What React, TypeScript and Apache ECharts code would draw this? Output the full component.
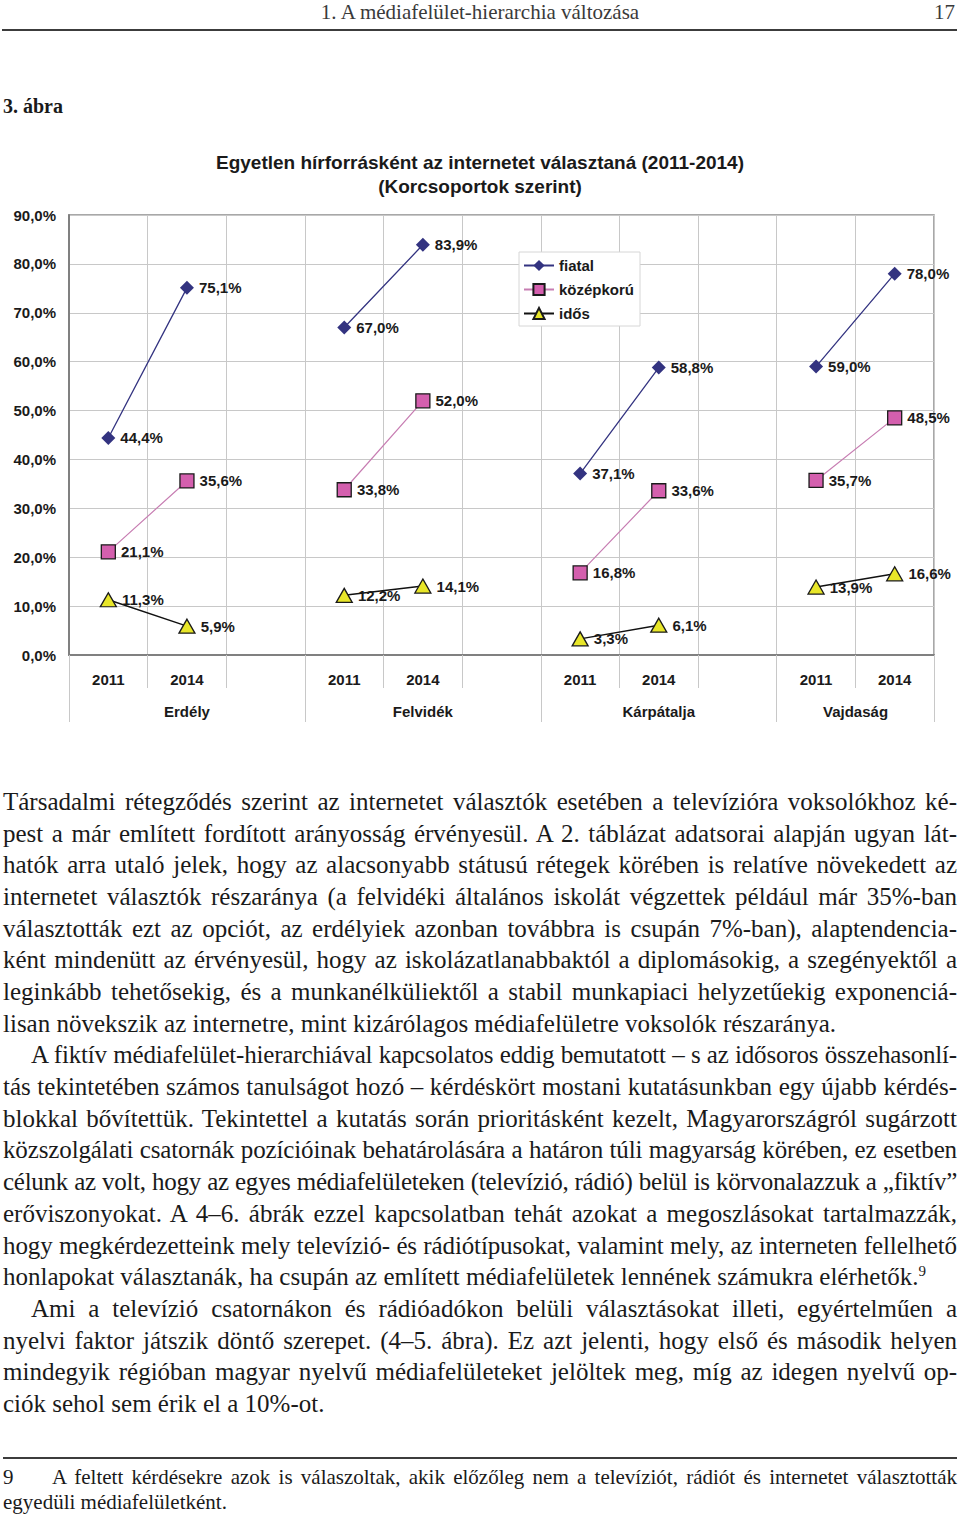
import React, { useEffect, useLayoutEffect, useRef } from 'react';
import * as echarts from 'echarts';

// ---- chart data ----
const years = ['2011', '2014', '', '2011', '2014', '', '2011', '2014', '', '2011', '2014'];
const regions = ['', 'Erdély', '', '', 'Felvidék', '', '', 'Kárpátalja', '', 'Vajdaság', ''];
const seriesNames = ['fiatal', 'középkorú', 'idős'];
const fiatal = [44.4, 75.1, null, 67.0, 83.9, null, 37.1, 58.8, null, 59.0, 78.0];
const kozepkoru = [21.1, 35.6, null, 33.8, 52.0, null, 16.8, 33.6, null, 35.7, 48.5];
const idos = [11.3, 5.9, null, 12.2, 14.1, null, 3.3, 6.1, null, 13.9, 16.6];
const yMin = 0;
const yMax = 90;
const yStep = 10;
const chartTitle = 'Egyetlen hírforrásként az internetet választaná (2011-2014)\n(Korcsoportok szerint)';

// ---- page text ----
const headerText = '1. A médiafelület-hierarchia változása';
const pageNo = '17';
const figLabel = '3. ábra';
type Line = { t: string; indent?: boolean; last?: boolean; sup?: string };
const bodyLines: Line[] = [
  { t: 'Társadalmi rétegződés szerint az internetet választók esetében a televízióra voksolókhoz ké-' },
  { t: 'pest a már említett fordított arányosság érvényesül. A 2. táblázat adatsorai alapján ugyan lát-' },
  { t: 'hatók arra utaló jelek, hogy az alacsonyabb státusú rétegek körében is relatíve növekedett az' },
  { t: 'internetet választók részaránya (a felvidéki általános iskolát végzettek például már 35%-ban' },
  { t: 'választották ezt az opciót, az erdélyiek azonban továbbra is csupán 7%-ban), alaptendencia-' },
  { t: 'ként mindenütt az érvényesül, hogy az iskolázatlanabbaktól a diplomásokig, a szegényektől a' },
  { t: 'leginkább tehetősekig, és a munkanélküliektől a stabil munkapiaci helyzetűekig exponenciá-' },
  { t: 'lisan növekszik az internetre, mint kizárólagos médiafelületre voksolók részaránya.', last: true },
  { t: 'A fiktív médiafelület-hierarchiával kapcsolatos eddig bemutatott – s az idősoros összehasonlí-', indent: true },
  { t: 'tás tekintetében számos tanulságot hozó – kérdéskört mostani kutatásunkban egy újabb kérdés-' },
  { t: 'blokkal bővítettük. Tekintettel a kutatás során prioritásként kezelt, Magyarországról sugárzott' },
  { t: 'közszolgálati csatornák pozícióinak behatárolására a határon túli magyarság körében, ez esetben' },
  { t: 'célunk az volt, hogy az egyes médiafelületeken (televízió, rádió) belül is körvonalazzuk a „fiktív”' },
  { t: 'erőviszonyokat. A 4–6. ábrák ezzel kapcsolatban tehát azokat a megoszlásokat tartalmazzák,' },
  { t: 'hogy megkérdezetteink mely televízió- és rádiótípusokat, valamint mely, az interneten fellelhető' },
  { t: 'honlapokat választanák, ha csupán az említett médiafelületek lennének számukra elérhetők.', last: true, sup: '9' },
  { t: 'Ami a televízió csatornákon és rádióadókon belüli választásokat illeti, egyértelműen a', indent: true },
  { t: 'nyelvi faktor játszik döntő szerepet. (4–5. ábra). Ez azt jelenti, hogy első és második helyen' },
  { t: 'mindegyik régióban magyar nyelvű médiafelületeket jelöltek meg, míg az idegen nyelvű op-' },
  { t: 'ciók sehol sem érik el a 10%-ot.', last: true },
];
const footNo = '9';
const footLine1 = 'A feltett kérdésekre azok is válaszoltak, akik előzőleg nem a televíziót, rádiót és internetet választották';
const footLine2 = 'egyedüli médiafelületként.';

const SANS = "'Liberation Sans', Arial, Helvetica, sans-serif";
const SERIF = "'Liberation Serif', 'Times New Roman', serif";

const fmt = (v: number) => v.toFixed(1).replace('.', ',') + '%';

export default function App() {
  const chartRef = useRef<HTMLDivElement>(null);
  const textRef = useRef<HTMLDivElement>(null);

  useEffect(() => {
    const chart = echarts.init(chartRef.current!, null, { renderer: 'svg' });
    const lbl = { fontFamily: SANS, fontWeight: 'bold' as const, fontSize: 15, color: '#1a1a1a' };
    const grid = '#c8c8c8';
    const dataLabel = {
      show: true,
      position: 'right' as const,
      distance: 5,
      ...lbl,
      formatter: (p: any) => (p.value == null ? '' : fmt(Number(p.value))),
    };
    chart.setOption({
      animation: false,
      backgroundColor: 'transparent',
      title: {
        text: chartTitle,
        left: 'center',
        top: 145,
        textStyle: { ...lbl, fontSize: 19, lineHeight: 24 },
      },
      legend: {
        data: seriesNames,
        orient: 'vertical',
        left: 519,
        top: 252,
        itemWidth: 30,
        itemHeight: 14,
        itemGap: 9,
        padding: [6, 6, 5, 4],
        backgroundColor: '#ffffff',
        borderColor: '#d6d6d6',
        borderWidth: 1,
        textStyle: { ...lbl },
      },
      grid: {
        left: 69,
        top: 215,
        width: 865,
        height: 440,
        show: true,
        borderColor: '#8c8c8c',
        borderWidth: 1.5,
        backgroundColor: 'transparent',
      },
      xAxis: [
        {
          type: 'category',
          data: years,
          position: 'bottom',
          boundaryGap: true,
          axisLine: { show: true, lineStyle: { color: '#808080', width: 2 } },
          axisTick: { show: true, interval: 0, length: 33, lineStyle: { color: grid, width: 1 } },
          axisLabel: { interval: 0, margin: 17, ...lbl },
          splitLine: { show: true, interval: 0, lineStyle: { color: grid, width: 1 } },
        },
        {
          type: 'category',
          data: regions,
          position: 'bottom',
          boundaryGap: true,
          axisLine: { show: false },
          axisTick: {
            show: true,
            interval: (i: number) => i % 3 === 0,
            length: 67,
            lineStyle: { color: grid, width: 1 },
          },
          axisLabel: {
            interval: 0,
            margin: 49,
            ...lbl,
            formatter: (v: string) => (v === 'Vajdaság' ? '{s|' + v + '}' : v),
            rich: { s: { ...lbl, padding: [0, 0, 0, 79] } },
          },
          splitLine: { show: false },
        },
      ],
      yAxis: {
        type: 'value',
        min: yMin,
        max: yMax,
        interval: yStep,
        axisLine: { show: true, lineStyle: { color: '#808080', width: 2 } },
        axisTick: { show: false },
        axisLabel: { ...lbl, margin: 13, formatter: (v: number) => fmt(v) },
        splitLine: { show: true, lineStyle: { color: grid, width: 1 } },
      },
      series: [
        {
          name: seriesNames[0],
          type: 'line',
          xAxisIndex: 0,
          data: fiatal,
          symbol: 'diamond',
          symbolSize: 14,
          itemStyle: { color: '#333380' },
          lineStyle: { color: '#333380', width: 1.3 },
          label: dataLabel,
          z: 4,
        },
        {
          name: seriesNames[1],
          type: 'line',
          xAxisIndex: 0,
          data: kozepkoru,
          symbol: 'rect',
          symbolSize: 14,
          itemStyle: { color: '#d45fae', borderColor: '#1a1a1a', borderWidth: 1.3 },
          lineStyle: { color: '#c77db2', width: 1.2 },
          label: dataLabel,
          z: 3,
        },
        {
          name: seriesNames[2],
          type: 'line',
          xAxisIndex: 0,
          data: idos,
          symbol: 'triangle',
          symbolSize: [16, 14],
          itemStyle: { color: '#e8e629', borderColor: '#1a1a1a', borderWidth: 1.3 },
          lineStyle: { color: '#111111', width: 1.5 },
          label: dataLabel,
          z: 2,
        },
      ],
    });
    return () => chart.dispose();
  }, []);

  useLayoutEffect(() => {
    const root = textRef.current;
    if (!root) return;
    root.querySelectorAll<HTMLElement>('[data-fit]').forEach((el) => {
      const over = el.scrollWidth - el.clientWidth;
      if (over > 0) {
        const n = (el.textContent || '').length || 1;
        el.style.letterSpacing = `${-(over + 3) / n}px`;
      }
    });
  }, []);

  const lineH = 31.68;
  const firstCenter = 802;
  const bodySize = 25;

  return (
    <div
      style={{
        position: 'absolute',
        left: 0,
        top: 0,
        width: 960,
        height: 1517,
        background: '#ffffff',
        overflow: 'hidden',
      }}
    >
      <div ref={chartRef} style={{ position: 'absolute', left: 0, top: 0, width: 960, height: 740 }} />
      <div ref={textRef} style={{ position: 'absolute', left: 0, top: 0, width: 960, height: 1517, pointerEvents: 'none', fontFamily: SERIF, color: '#1a1a1a' }}>
        {/* running header */}
        <div style={{ position: 'absolute', left: 0, top: 1, width: 960, textAlign: 'center', fontSize: 21, lineHeight: '23px', color: '#3a3a3a' }}>
          {headerText}
        </div>
        <div style={{ position: 'absolute', right: 5, top: 1, fontSize: 21, lineHeight: '23px', color: '#3a3a3a' }}>{pageNo}</div>
        <div style={{ position: 'absolute', left: 2, top: 29, width: 955, height: 2, background: '#3c3c3c' }} />
        <div style={{ position: 'absolute', left: 3, top: 94, fontSize: 20, lineHeight: '24px', fontWeight: 'bold' }}>{figLabel}</div>

        {/* body text */}
        {bodyLines.map((ln, i) => {
          const left = ln.indent ? 31 : 3;
          return (
            <div
              key={i}
              data-fit={ln.last ? undefined : '1'}
              style={{
                position: 'absolute',
                left,
                top: firstCenter + i * lineH - 16,
                width: 957 - left,
                height: 32,
                lineHeight: '32px',
                fontSize: bodySize,
                whiteSpace: 'nowrap',
                textAlign: ln.last ? 'left' : 'justify',
                textAlignLast: ln.last ? 'left' : 'justify',
              }}
            >
              {ln.t}
              {ln.sup ? <sup style={{ fontSize: 15, lineHeight: 0 }}>{ln.sup}</sup> : null}
            </div>
          );
        })}

        {/* footnote */}
        <div style={{ position: 'absolute', left: 3, top: 1457, width: 954, height: 2, background: '#3c3c3c' }} />
        <div style={{ position: 'absolute', left: 3, top: 1464, fontSize: 21, lineHeight: '26px' }}>{footNo}</div>
        <div
          data-fit="1"
          style={{ position: 'absolute', left: 52, top: 1464, width: 905, fontSize: 21, lineHeight: '26px', whiteSpace: 'nowrap', textAlign: 'justify', textAlignLast: 'justify' }}
        >
          {footLine1}
        </div>
        <div style={{ position: 'absolute', left: 3, top: 1489, fontSize: 21, lineHeight: '26px', whiteSpace: 'nowrap' }}>{footLine2}</div>
      </div>
    </div>
  );
}
